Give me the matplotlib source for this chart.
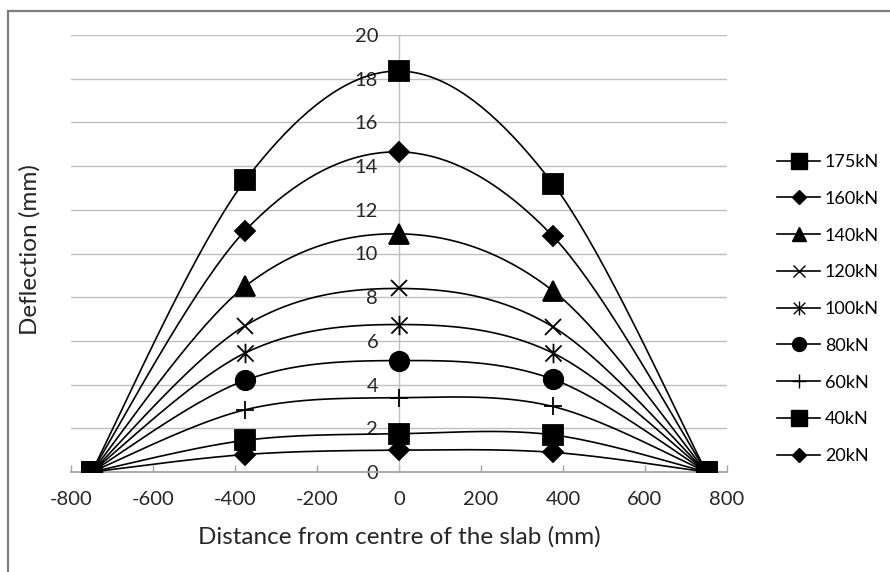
import numpy as np
import matplotlib
matplotlib.use("Agg")
import matplotlib.pyplot as plt
from matplotlib.path import Path
from matplotlib.patches import Rectangle
from matplotlib.lines import Line2D

plt.rcParams["font.family"] = ["Lato", "DejaVu Sans"]
plt.rcParams["axes.unicode_minus"] = False

# ── Data ──────────────────────────────────────────────────────────────
distance = [-750, -375, 0, 375, 750]
loads = ["175kN", "160kN", "140kN", "120kN", "100kN", "80kN", "60kN", "40kN", "20kN"]
defl_175 = [0, 13.35, 18.35, 13.2, 0]
defl_160 = [0, 11.05, 14.65, 10.8, 0]
defl_140 = [0, 8.5, 10.9, 8.3, 0]
defl_120 = [0, 6.7, 8.4, 6.65, 0]
defl_100 = [0, 5.45, 6.75, 5.45, 0]
defl_80 = [0, 4.2, 5.1, 4.25, 0]
defl_60 = [0, 2.85, 3.4, 3.0, 0]
defl_40 = [0, 1.45, 1.75, 1.7, 0]
defl_20 = [0, 0.8, 1.0, 0.9, 0]
series = [defl_175, defl_160, defl_140, defl_120, defl_100,
          defl_80, defl_60, defl_40, defl_20]

# Excel-style "star" marker: X plus a vertical bar
star = Path([(-0.5, -0.5), (0.5, 0.5), (-0.5, 0.5), (0.5, -0.5), (0, -0.6), (0, 0.6)],
            [Path.MOVETO, Path.LINETO, Path.MOVETO, Path.LINETO, Path.MOVETO, Path.LINETO])

# marker, size on plot, size in legend
styles = [("s", 14, 11), ("D", 10, 7), ("^", 14, 10), ("x", 12, 9), (star, 14, 10),
          ("o", 14, 10), ("+", 13, 10), ("s", 14, 11), ("D", 10, 7)]


def excel_smooth(x, y, n=40):
    # Bezier spline through the points, like Excel's smoothed scatter line
    x = np.asarray(x, float)
    y = np.asarray(y, float)
    px = np.concatenate([[x[0]], x, [x[-1]]])
    py = np.concatenate([[y[0]], y, [y[-1]]])
    xs, ys = [], []
    t = np.linspace(0, 1, n)
    for i in range(1, len(x)):
        p0 = np.array([px[i], py[i]])
        p3 = np.array([px[i + 1], py[i + 1]])
        c1 = p0 + (np.array([px[i + 1], py[i + 1]]) - np.array([px[i - 1], py[i - 1]])) / 6
        c2 = p3 - (np.array([px[i + 2], py[i + 2]]) - np.array([px[i], py[i]])) / 6
        b = ((1 - t) ** 3)[:, None] * p0 + (3 * (1 - t) ** 2 * t)[:, None] * c1 \
            + (3 * (1 - t) * t ** 2)[:, None] * c2 + (t ** 3)[:, None] * p3
        xs.append(b[:, 0])
        ys.append(b[:, 1])
    return np.concatenate(xs), np.concatenate(ys)


fig = plt.figure(figsize=(8.9, 5.72), dpi=100)
ax = fig.add_axes([71 / 890, 1 - 472 / 572, (727 - 71) / 890, (472 - 35) / 572])

# outer chart frame (runs off the right and bottom edges)
fig.patches.append(Rectangle((8 / 890, -0.2), 2, 1.2 - 11 / 572, transform=fig.transFigure,
                             fill=False, edgecolor="#7f7f7f", linewidth=1.6))

handles = []
for idx in range(len(series) - 1, -1, -1):
    vals = series[idx]
    mk, ms, lms = styles[idx]
    sx, sy = excel_smooth(distance, vals)
    ax.plot(sx, sy, color="black", linewidth=1.2, zorder=3)
    ax.plot(distance, vals, linestyle="none", marker=mk, markersize=ms,
            color="black", markeredgewidth=1.3, zorder=4)

for idx, lab in enumerate(loads):
    mk, ms, lms = styles[idx]
    handles.append(Line2D([], [], color="black", linewidth=1.2, marker=mk,
                          markersize=lms, markeredgewidth=1.0, label=lab))

ax.set_xlim(-800, 800)
ax.set_ylim(0, 20)
ax.set_xticks(range(-800, 801, 200))
ax.set_yticks(range(0, 21, 2))

ax.spines["left"].set_position(("data", 0))
for s in ("top", "right"):
    ax.spines[s].set_visible(False)
ax.spines["left"].set_color("#bfbfbf")
ax.spines["bottom"].set_color("#a6a6a6")
ax.spines["left"].set_linewidth(1.0)
ax.spines["bottom"].set_linewidth(1.3)
ax.grid(axis="y", color="#bfbfbf", linewidth=1.0)
ax.set_axisbelow(True)

ax.tick_params(axis="y", length=0, pad=15, labelsize=14.5, labelcolor="#262626")
ax.tick_params(axis="x", direction="in", length=5, color="#a6a6a6", width=1.0,
               pad=14, labelsize=14.5, labelcolor="#262626")

fig.text(399 / 890, 1 - 537 / 572, "Distance from centre of the slab (mm)",
         ha="center", va="center", fontsize=17.5, color="#262626")
fig.text(30 / 890, 1 - 250 / 572, "Deflection (mm)", rotation=90,
         ha="center", va="center", fontsize=17.5, color="#262626")

ax.legend(handles=handles, loc="upper left", bbox_to_anchor=(777 / 890, 1 - 154 / 572),
          bbox_transform=fig.transFigure, frameon=False, fontsize=13,
          handlelength=2.4, handletextpad=0.25, labelspacing=1.15, borderpad=0,
          borderaxespad=0)

fig.savefig("out.png", dpi=100)
